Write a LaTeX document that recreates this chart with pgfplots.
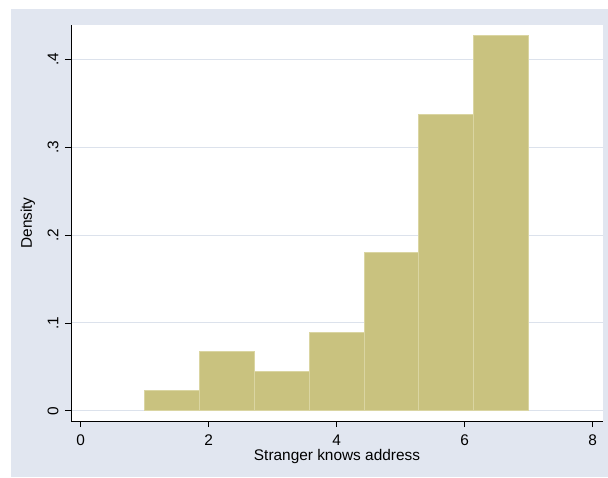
\documentclass[border=0pt]{standalone}
\usepackage{pgfplots}
\pgfplotsset{compat=1.18}
\usepackage{fontspec}
\setmainfont{Liberation Sans}
\definecolor{bgc}{HTML}{E1E6F0}
\definecolor{gridc}{HTML}{DCE2EC}
\definecolor{barc}{HTML}{C9C27F}
\definecolor{barl}{HTML}{DAD5A2}
\newcommand{\fs}{\fontsize{15.4}{18}\selectfont}
\begin{document}
\begin{tikzpicture}[x=1pt,y=1pt]
\useasboundingbox (0,0) rectangle (608,477);
\fill[white] (0,0) rectangle (608,477);
\fill[bgc] (11,0) rectangle (608,468);
\begin{axis}[
  at={(71pt,56pt)}, anchor=south west,
  scale only axis, width=532pt, height=396pt,
  xmin=-0.15, xmax=8.16, ymin=-0.0117, ymax=0.4393,
  axis x line*=bottom, axis y line*=left,
  axis line style={-, black, line width=0.8pt},
  axis background/.style={fill=white},
  xtick={0,2,4,6,8},
  ytick={0,0.1,0.2,0.3,0.4},
  yticklabels={0,.1,.2,.3,.4},
  tick align=outside, major tick length=6pt,
  tick style={black, line width=0.8pt},
  ymajorgrids, grid style={gridc, line width=1pt},
  /pgf/number format/assume math mode=true,
  ticklabel style={font=\fs},
  xticklabel style={anchor=north, yshift=-4pt},
  yticklabel style={anchor=east, xshift=-3pt, rotate=90, anchor=south},
  xlabel={Stranger knows address}, ylabel={Density},
  label style={font=\fs},
  xlabel style={at={(axis description cs:0.5,-0.0909)}, anchor=center},
  ylabel style={at={(axis description cs:-0.0808,0.5)}, anchor=center},
]
\addplot[ybar interval, fill=barc, draw=barl, line width=1pt] coordinates {
  (1.000000,0.0228)
  (1.857143,0.0672)
  (2.714286,0.0452)
  (3.571429,0.0896)
  (4.428571,0.1800)
  (5.285714,0.3368)
  (6.142857,0.4271)
  (7.000000,0.4271)
};
\end{axis}
\end{tikzpicture}
\end{document}
